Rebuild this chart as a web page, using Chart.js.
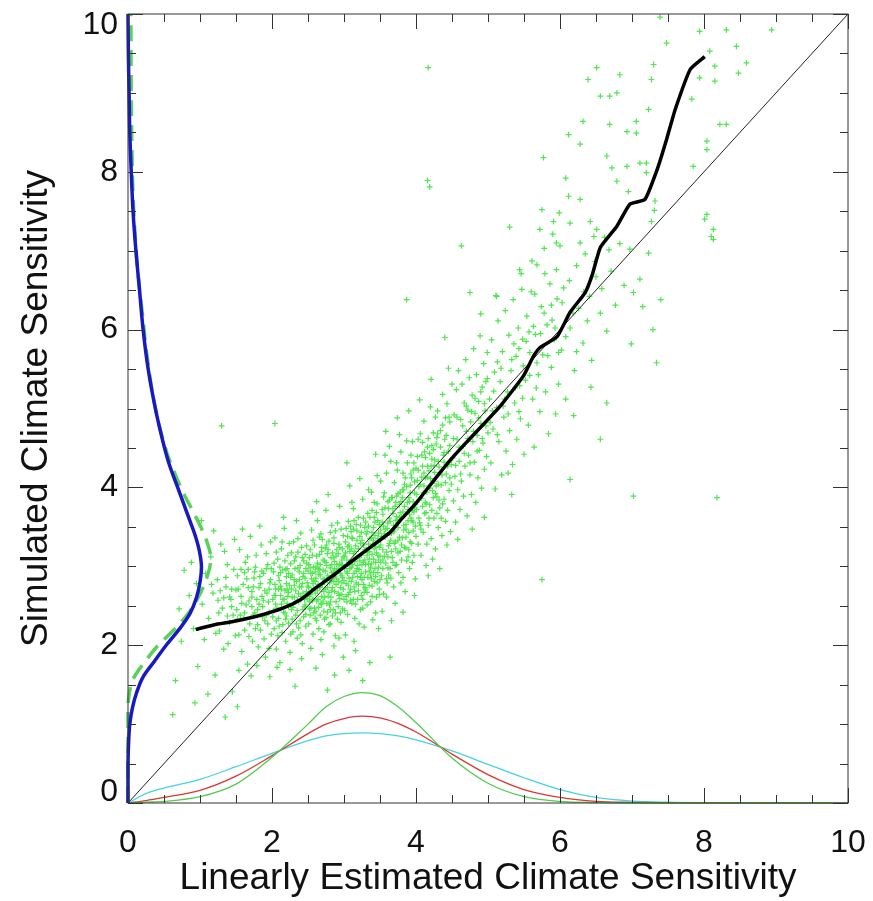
<!DOCTYPE html>
<html><head><meta charset="utf-8">
<script src="https://cdn.jsdelivr.net/npm/chart.js@4/dist/chart.umd.min.js"></script>
<style>html,body{margin:0;padding:0;background:#fff;}</style>
</head><body>
<canvas id="c" width="873" height="901"></canvas>
<script>
// ---- tick labels ----
const xTicks = [0, 2, 4, 6, 8, 10];
const yTicks = [0, 2, 4, 6, 8, 10];
const minorStep = 0.5;

// ---- 1:1 line ----
const diagX = [0, 10];
const diagY = [0, 10];

// ---- black running median ----
const medX = [0.94,1.2,1.46,1.8,2.15,2.4,2.57,2.9,3.26,3.64,3.8,4.01,4.24,4.5,4.7,5.17,5.49,5.63,5.72,5.96,6.14,6.35,6.45,6.56,6.79,6.97,7.18,7.35,7.48,7.6,7.81,8.01];
const medY = [2.20,2.26,2.30,2.37,2.47,2.58,2.70,2.92,3.17,3.43,3.60,3.81,4.08,4.37,4.57,5.03,5.41,5.66,5.77,5.91,6.22,6.47,6.70,7.04,7.31,7.59,7.65,8.03,8.41,8.79,9.30,9.46];

// ---- blue PDF of simulated sensitivity (along y axis) ----
const blueY = [0,0.5,0.8,1.0,1.2,1.4,1.6,1.8,2.0,2.2,2.4,2.6,2.8,3.0,3.2,3.4,3.6,3.8,4.0,4.3,4.6,5.0,5.5,6.0,6.5,7.0,7.5,8.0,8.5,9.0,9.5,10];
const blueX = [0,0.0,0.01,0.025,0.06,0.12,0.21,0.37,0.53,0.71,0.86,0.95,1.00,1.02,0.99,0.93,0.85,0.77,0.69,0.57,0.48,0.38,0.28,0.21,0.16,0.11,0.07,0.045,0.025,0.015,0.005,0];

// ---- green dashed PDF (along y axis) ----
const dashY = [0,1.2,1.4,1.57,1.82,2.0,2.16,2.36,2.58,2.87,3.1,3.3,3.5,3.7,3.93,4.2,4.44,4.8,5.2,5.7,6.2,6.8,7.5,8.0,9.0,10];
const dashX = [0,0,0.02,0.07,0.26,0.42,0.60,0.80,0.96,1.10,1.15,1.10,1.01,0.90,0.77,0.64,0.54,0.43,0.34,0.26,0.20,0.13,0.08,0.06,0.045,0.04];

// ---- PDFs of linearly estimated sensitivity (along x axis) ----
const pdfX     = [0,0.25,0.5,1.0,1.5,2.0,2.5,2.75,3.0,3.25,3.5,3.75,4.0,4.5,5.0,5.5,6.0,6.5,7.0,7.5,8.0,9.0,10];
const pdfGreen = [0,0.01,0.02,0.08,0.24,0.58,1.00,1.22,1.35,1.40,1.36,1.22,1.02,0.57,0.25,0.08,0.02,0.005,0,0,0,0,0];
const pdfRed   = [0,0.03,0.07,0.16,0.34,0.60,0.88,1.00,1.07,1.10,1.08,1.01,0.90,0.62,0.36,0.17,0.07,0.02,0.008,0.003,0,0,0];
const pdfCyan  = [0,0.12,0.19,0.30,0.46,0.63,0.79,0.85,0.88,0.89,0.88,0.85,0.80,0.66,0.49,0.32,0.17,0.07,0.025,0.01,0.004,0,0];

// ---- ensemble members (x, y pairs) ----
const scatterPairs = [
0.62,1.12,0.71,2.46,0.78,2.95,0.85,2.63,0.91,2.21,0.95,2.78,0.66,1.55,0.88,3.05,0.97,1.73,0.74,2.05,0.93,1.27,1.35,1.09,1.52,1.22,
1.03,2.52,1.08,2.91,1.12,2.34,1.15,3.12,1.18,2.66,1.21,1.62,1.24,2.83,1.27,2.18,1.29,3.28,1.31,2.47,1.33,1.95,1.36,2.74,1.38,3.02,1.41,2.29,1.43,2.58,1.45,1.41,1.47,2.96,1.49,2.12,1.06,2.07,1.11,1.38,1.19,3.45,1.26,2.41,1.34,3.19,1.39,2.02,1.44,2.71,1.16,2.77,1.22,2.15,1.30,4.78,1.48,3.34,1.02,3.58,
1.51,2.45,1.52,2.88,1.54,2.13,1.55,3.21,1.57,2.62,1.58,1.92,1.60,2.77,1.61,2.34,1.63,3.05,1.64,2.51,1.66,1.76,1.67,2.96,1.69,2.27,1.70,3.38,1.72,2.68,1.73,2.05,1.75,2.85,1.76,2.41,1.78,3.14,1.79,2.58,1.81,1.98,1.82,2.73,1.84,2.19,1.85,3.27,1.87,2.49,1.88,2.91,1.90,2.31,1.91,1.85,1.93,2.66,1.94,3.02,1.96,2.42,1.97,2.79,1.99,2.14,1.53,2.71,1.56,2.38,1.59,3.47,1.62,2.19,1.65,2.84,1.68,2.56,1.71,1.61,1.74,2.38,1.77,2.99,1.80,2.26,1.83,3.51,1.86,2.62,1.89,2.08,1.92,2.97,1.95,2.55,1.98,3.31,1.54,1.68,1.62,2.92,1.68,2.11,1.74,2.74,1.79,1.74,1.83,2.87,1.87,2.36,1.92,3.16,1.96,1.96,1.58,2.53,1.66,3.12,
2.01,2.58,2.02,2.93,2.03,2.21,2.04,3.36,2.05,2.71,2.06,1.95,2.07,2.47,2.08,3.09,2.09,2.34,2.10,2.82,2.11,1.78,2.12,2.63,2.13,3.22,2.14,2.16,2.15,2.95,2.16,2.42,2.17,3.48,2.18,2.69,2.19,2.05,2.20,2.87,2.21,2.53,2.22,3.14,2.23,2.28,2.24,2.76,2.25,1.91,2.26,3.03,2.27,2.45,2.28,2.89,2.29,2.17,2.30,3.31,2.31,2.61,2.32,2.97,2.33,2.38,2.34,2.81,2.35,2.09,2.36,3.18,2.37,2.55,2.38,2.93,2.39,2.31,2.40,3.42,2.41,2.74,2.42,2.02,2.43,2.66,2.44,3.07,2.45,2.49,2.46,2.85,2.47,2.24,2.48,3.26,2.49,2.59,2.50,2.94,
2.02,2.44,2.04,2.77,2.06,3.18,2.08,2.12,2.11,2.99,2.13,2.52,2.15,2.26,2.18,3.07,2.20,2.37,2.22,2.62,2.24,3.29,2.27,2.71,2.29,2.48,2.31,2.83,2.33,3.12,2.35,2.57,2.37,2.22,2.39,3.01,2.42,2.78,2.44,2.36,2.46,3.15,2.48,2.68,2.07,1.72,2.16,3.62,2.25,1.69,2.34,3.58,2.41,1.83,2.19,2.96,2.28,2.33,2.38,2.74,2.47,2.97,2.12,2.75,2.23,2.91,2.36,3.35,2.43,2.45,2.05,2.63,2.04,4.81,2.32,1.48,1.97,1.60,
2.51,2.73,2.52,3.11,2.53,2.38,2.54,2.91,2.55,3.46,2.56,2.57,2.57,2.14,2.58,2.82,2.59,3.27,2.60,2.66,2.61,2.99,2.62,2.31,2.63,3.58,2.64,2.77,2.65,2.48,2.66,3.15,2.67,2.89,2.68,2.07,2.69,2.62,2.70,3.34,2.71,2.95,2.72,2.43,2.73,3.07,2.74,2.71,2.75,3.71,2.76,2.53,2.77,2.88,2.78,3.21,2.79,2.26,2.80,2.79,2.81,3.43,2.82,2.61,2.83,3.02,2.84,2.37,2.85,2.93,2.86,3.29,2.87,2.68,2.88,2.12,2.89,3.13,2.90,2.84,2.91,3.55,2.92,2.49,2.93,2.97,2.94,3.24,2.95,2.73,2.96,2.29,2.97,3.08,2.98,2.86,2.99,3.39,3.00,2.58,
2.51,2.27,2.53,2.98,2.55,2.69,2.57,3.33,2.59,2.47,2.61,2.85,2.63,3.04,2.65,2.21,2.67,2.74,2.69,3.19,2.71,2.56,2.73,2.83,2.75,2.35,2.77,3.16,2.79,2.67,2.81,2.98,2.83,3.52,2.85,2.45,2.87,3.06,2.89,2.77,2.91,2.33,2.93,3.28,2.95,2.91,2.97,2.64,2.99,3.12,2.52,2.55,2.56,3.69,2.60,2.93,2.64,2.58,2.68,3.41,2.72,2.17,2.76,3.01,2.80,2.51,2.84,3.17,2.88,2.89,2.92,2.66,2.96,3.47,2.54,1.96,2.62,3.82,2.70,1.88,2.78,3.91,2.86,1.99,2.94,3.76,2.58,2.41,2.66,2.96,2.74,3.23,2.82,2.82,2.90,3.02,2.98,2.46,2.57,2.78,2.69,2.52,2.81,2.27,2.93,2.09,2.61,1.71,2.87,1.62,2.77,1.43,2.99,1.85,
3.01,2.97,3.02,3.31,3.03,2.62,3.04,3.08,3.05,2.39,3.06,3.57,3.07,2.85,3.08,3.19,3.09,2.71,3.10,3.44,3.11,2.53,3.12,3.02,3.13,3.73,3.14,2.91,3.15,2.34,3.16,3.26,3.17,2.79,3.18,3.11,3.19,2.58,3.20,3.62,3.21,2.96,3.22,3.38,3.23,2.45,3.24,3.14,3.25,2.83,3.26,3.85,3.27,3.05,3.28,2.67,3.29,3.49,3.30,2.93,3.31,3.21,3.32,2.51,3.33,3.67,3.34,3.03,3.35,2.76,3.36,3.35,3.37,2.98,3.38,3.94,3.39,2.62,3.40,3.28,3.41,3.09,3.42,2.81,3.43,3.56,3.44,2.41,3.45,3.17,3.46,3.79,3.47,2.92,3.48,3.42,3.49,2.71,3.50,3.13,
3.01,2.44,3.03,3.48,3.05,2.91,3.07,3.27,3.09,2.57,3.11,3.81,3.13,3.16,3.15,2.68,3.17,3.53,3.19,2.87,3.21,2.27,3.23,3.29,3.25,3.02,3.27,3.61,3.29,2.73,3.31,3.41,3.33,2.86,3.35,3.19,3.37,2.55,3.39,3.71,3.41,3.33,3.43,2.97,3.45,2.61,3.47,3.58,3.49,3.24,3.02,2.13,3.08,4.02,3.14,2.05,3.22,4.11,3.28,2.23,3.34,3.97,3.40,2.32,3.46,4.15,3.06,2.76,3.12,3.35,3.18,2.97,3.24,2.63,3.32,3.14,3.38,2.84,3.44,3.05,3.10,2.99,3.20,3.22,3.30,3.56,3.42,3.81,3.16,1.93,3.36,1.78,3.26,1.55,3.48,2.21,3.04,4.31,3.44,4.42,3.14,3.58,3.26,2.47,3.38,3.36,3.48,2.99,3.07,1.68,
3.51,3.46,3.52,2.88,3.53,3.72,3.54,3.21,3.55,2.65,3.56,3.93,3.57,3.37,3.58,3.04,3.59,4.18,3.60,2.79,3.61,3.55,3.62,3.26,3.63,3.84,3.64,2.97,3.65,4.33,3.66,3.42,3.67,3.11,3.68,3.67,3.69,2.74,3.70,4.06,3.71,3.31,3.72,3.58,3.73,3.02,3.74,4.22,3.75,3.49,3.76,2.92,3.77,3.78,3.78,3.19,3.79,4.45,3.80,3.63,3.81,3.36,3.82,2.86,3.83,3.97,3.84,3.24,3.85,4.12,3.86,3.53,3.87,3.07,3.88,4.31,3.89,3.72,3.90,3.43,3.91,2.97,3.92,4.03,3.93,3.61,3.94,3.29,3.95,4.58,3.96,3.82,3.97,3.14,3.98,3.93,3.99,3.51,4.00,4.24,
3.51,4.08,3.53,2.43,3.55,3.51,3.57,4.41,3.59,2.61,3.61,3.12,3.63,4.52,3.65,2.85,3.67,3.87,3.69,3.44,3.71,2.53,3.73,4.31,3.75,3.17,3.77,4.67,3.79,2.79,3.81,3.87,3.83,3.46,3.85,2.68,3.87,4.59,3.89,3.12,3.91,3.82,3.93,4.41,3.95,3.05,3.97,3.69,3.99,2.84,3.54,3.08,3.62,3.73,3.70,3.29,3.78,3.94,3.86,3.37,3.94,4.12,3.58,4.71,3.66,2.31,3.74,4.88,3.82,2.42,3.90,4.97,3.98,2.63,3.64,1.85,3.87,6.38,3.72,3.81,3.96,3.56,
4.01,3.72,4.02,4.39,4.03,3.28,4.04,4.01,4.05,3.55,4.06,4.68,4.07,3.14,4.08,3.86,4.09,4.27,4.10,3.43,4.11,4.84,4.12,3.67,4.13,4.12,4.14,3.01,4.15,3.94,4.16,4.51,4.17,3.52,4.18,4.21,4.19,3.78,4.20,5.02,4.21,3.35,4.22,4.36,4.23,3.96,4.24,4.69,4.25,3.61,4.26,4.08,4.27,3.22,4.28,4.55,4.29,3.88,4.30,4.97,4.31,3.49,4.32,4.26,4.33,3.74,4.34,4.72,4.35,4.03,4.36,3.39,4.37,5.18,4.38,4.41,4.39,3.85,4.40,4.61,4.41,3.57,4.42,4.17,4.43,5.06,4.44,3.71,4.45,4.46,4.46,3.96,4.47,4.83,4.48,3.44,4.49,4.29,4.50,5.31,
4.03,4.61,4.07,3.47,4.11,4.18,4.15,3.28,4.19,4.43,4.23,3.09,4.27,4.89,4.31,4.04,4.35,3.61,4.39,4.32,4.43,3.27,4.47,4.12,4.05,5.11,4.17,2.88,4.21,5.37,4.33,2.97,4.45,5.51,4.13,3.81,4.25,4.28,4.37,3.79,4.09,4.57,4.29,3.67,4.41,4.88,4.17,9.32,4.16,7.89,4.19,7.81,4.40,5.90,
4.51,4.37,4.52,3.83,4.53,4.92,4.54,4.14,4.55,3.56,4.56,5.24,4.57,4.61,4.58,3.97,4.59,5.48,4.60,4.33,4.61,3.72,4.62,4.86,4.63,4.08,4.64,5.31,4.65,4.52,4.66,3.89,4.67,5.07,4.68,4.27,4.69,5.62,4.70,4.71,4.71,3.64,4.72,4.98,4.73,4.41,4.74,5.39,4.75,4.16,4.76,4.83,4.77,3.91,4.78,5.17,4.79,4.58,4.80,5.76,4.81,4.32,4.82,4.94,4.83,3.81,4.84,5.43,4.85,4.66,4.86,4.12,4.87,5.09,4.88,4.47,4.89,5.92,4.90,4.81,4.91,3.99,4.92,5.27,4.93,4.56,4.94,5.57,4.95,4.23,4.96,4.97,4.97,5.34,4.98,4.39,4.99,5.71,5.00,4.69,4.58,3.34,4.78,3.47,4.95,3.62,4.63,7.06,4.75,6.47,4.90,6.20,
5.02,5.12,5.04,4.31,5.05,5.87,5.07,4.74,5.09,5.46,5.10,3.98,5.12,5.01,5.14,6.11,5.15,4.58,5.17,5.34,5.19,4.16,5.20,5.72,5.22,4.89,5.24,6.24,5.25,4.46,5.27,5.21,5.29,5.93,5.30,4.72,5.32,5.48,5.34,4.29,5.35,6.38,5.37,5.07,5.39,5.66,5.40,4.61,5.42,6.02,5.44,5.29,5.45,4.87,5.47,6.51,5.49,5.54,5.50,4.42,5.06,4.97,5.13,5.59,5.21,5.03,5.28,4.18,5.36,5.82,5.43,4.96,5.48,5.88,5.11,6.43,5.33,3.91,5.46,6.71,5.12,6.42,5.44,6.76,5.30,7.30,
5.52,5.36,5.54,6.17,5.56,4.79,5.58,5.71,5.60,6.48,5.62,5.12,5.64,4.51,5.66,5.94,5.68,6.82,5.70,5.43,5.72,4.96,5.74,6.29,5.75,2.83,5.76,5.68,5.78,7.03,5.80,5.21,5.82,6.06,5.84,4.68,5.86,6.58,5.88,5.52,5.90,7.21,5.92,5.87,5.94,4.93,5.96,6.39,5.98,5.31,5.57,5.97,5.67,5.26,5.79,6.71,5.89,6.12,5.99,7.48,5.65,6.45,5.95,6.76,
6.02,5.74,6.05,6.53,6.08,5.12,6.00,7.06,6.14,6.02,6.20,5.48,6.23,6.81,6.26,6.27,6.32,5.83,6.35,6.96,6.41,6.42,6.44,5.61,6.47,7.18,6.50,6.67,6.19,4.91,6.43,5.27,6.28,7.10,6.14,4.10,
6.56,6.21,6.65,5.98,6.71,6.74,6.77,6.31,6.83,7.09,6.89,6.56,6.99,5.82,6.62,7.17,6.56,4.61,6.65,5.07,
7.11,6.64,7.23,6.97,7.40,6.38,7.31,7.51,7.29,6.00,7.02,6.47,7.15,6.29,7.34,5.58,7.02,3.89,8.18,3.87,
7.48,9.63,7.94,9.78,8.31,9.80,8.45,9.59,8.08,9.53,8.94,9.80,8.59,9.38,8.48,9.25,8.15,9.34,8.15,9.15,7.94,9.19,7.83,8.92,8.22,8.60,8.31,8.60,8.04,8.39,8.04,8.28,7.85,8.07,8.01,7.40,8.13,7.27,8.13,7.14,
7.30,9.36,7.27,9.17,7.23,8.79,7.06,8.64,7.06,8.49,6.93,8.51,6.69,8.60,6.32,8.64,6.12,8.47,6.28,8.35,6.51,9.32,6.39,9.17,6.56,8.96,6.69,8.96,6.79,9.00,6.83,9.23,
5.77,8.18,6.08,7.92,6.12,7.69,6.28,7.65,5.75,7.52,5.91,7.37,5.72,7.27,6.14,7.35,6.42,7.37,6.65,8.20,6.72,8.05,6.93,8.07,7.11,8.11,7.20,8.11,7.20,7.99,6.79,7.88,6.95,7.75,7.32,7.63,6.51,7.27,5.95,7.10,5.61,6.87,6.97,7.02,7.27,7.37,7.39,9.96,8.04,7.46,8.10,7.18,
1.82,2.52,1.86,2.94,1.90,2.69,1.94,2.27,1.98,2.83,2.01,2.36,2.03,3.04,2.05,2.52,2.09,2.88,2.10,2.24,2.13,2.71,2.14,3.31,2.17,2.58,2.19,2.33,2.21,2.97,2.23,2.67,2.26,2.14,2.27,3.17,2.30,2.52,2.31,2.76,2.34,2.27,2.36,2.98,2.37,2.65,2.40,2.13,2.41,3.24,2.43,2.87,2.45,2.58,2.47,2.39,2.48,3.04,2.50,2.75,
2.52,2.46,2.53,3.21,2.55,2.84,2.57,2.58,2.58,2.99,2.60,2.34,2.62,3.13,2.63,2.69,2.65,2.90,2.66,3.37,2.68,2.53,2.70,2.77,2.71,3.08,2.73,2.33,2.74,2.94,2.76,3.27,2.78,2.62,2.79,2.86,2.81,2.45,2.82,3.11,2.84,2.73,2.86,3.36,2.87,2.97,2.89,2.55,2.90,3.21,2.92,2.81,2.94,3.03,2.95,2.41,2.97,2.79,2.98,3.22,2.52,2.62,2.56,2.91,2.61,2.43,2.67,3.02,2.72,2.68,2.77,2.42,2.83,2.92,2.88,3.45,2.93,2.63,2.98,3.02,
3.00,2.82,3.02,3.17,3.04,2.55,3.05,3.38,3.07,3.04,3.08,2.67,3.10,3.22,3.12,2.86,3.13,3.47,3.15,3.06,3.16,2.52,3.18,3.33,3.20,2.77,3.21,3.12,3.23,3.52,3.24,2.91,3.26,2.58,3.27,3.27,3.29,3.08,3.30,2.71,3.32,3.44,3.33,3.18,3.35,2.94,3.36,3.62,3.38,3.03,3.39,2.75,3.41,3.49,3.42,3.22,3.44,2.87,3.45,3.68,3.47,3.35,3.48,3.08,3.50,2.83,3.04,2.93,3.09,3.51,3.14,2.74,3.19,3.01,3.24,3.43,3.28,2.86,3.34,3.28,3.39,3.15,3.43,3.39,3.49,2.64,
3.51,3.27,3.53,3.56,3.54,2.97,3.56,3.41,3.57,3.74,3.59,3.18,3.60,3.48,3.62,2.89,3.63,3.61,3.65,3.33,3.66,3.87,3.68,3.05,3.69,3.52,3.71,3.76,3.72,3.22,3.74,3.59,3.75,3.92,3.77,3.37,3.78,3.68,3.80,3.08,3.81,3.97,3.83,3.52,3.84,3.76,3.86,3.23,3.87,4.01,3.89,3.58,3.90,3.87,3.92,3.31,3.93,4.17,3.95,3.71,3.96,3.45,3.98,4.07,3.99,3.78,3.55,3.88,3.64,3.42,3.73,3.63,3.82,4.18,3.91,3.66,3.97,4.31,3.61,2.98,
4.01,3.91,4.03,4.22,4.04,3.61,4.06,4.04,4.08,4.41,4.09,3.76,4.11,4.02,4.13,4.38,4.14,3.68,4.16,4.13,4.17,4.62,4.19,3.99,4.21,4.27,4.22,3.71,4.24,4.48,4.26,4.19,4.27,3.92,4.29,4.63,4.31,4.33,4.32,3.84,4.34,4.51,4.36,4.16,4.37,4.79,4.39,4.44,4.41,4.06,4.42,4.66,4.44,4.27,4.46,4.89,4.47,4.53,4.49,4.04,
4.52,4.62,4.55,4.28,4.57,4.89,4.60,4.51,4.62,4.17,4.65,4.78,4.67,4.43,4.70,5.03,4.72,4.62,4.75,4.31,4.77,4.96,4.80,4.71,4.82,5.13,4.85,4.46,4.87,4.88,4.90,5.21,4.92,4.62,4.95,5.06,4.97,4.78,4.99,5.38,
5.03,4.82,5.08,5.22,5.13,4.67,5.18,5.51,5.23,5.12,5.28,4.93,5.33,5.62,5.38,5.26,5.43,5.76,5.48,5.13,5.53,5.85,5.58,5.42,5.63,6.04,5.68,5.58,5.73,5.95,5.78,6.21,5.83,5.67,5.88,6.31,5.93,6.02,5.98,5.71,6.03,6.34,6.08,5.91,6.13,6.62,6.18,6.21,6.23,5.72,6.33,6.48,6.38,6.11,6.48,6.86,6.58,6.52,6.68,7.01,
1.62,2.41,1.67,2.73,1.72,2.49,1.77,2.21,1.52,2.33,1.57,2.96,1.41,2.61,1.46,2.38,1.36,2.86,1.25,2.57,
2.21,2.71,2.23,2.49,2.26,2.86,2.28,2.61,2.31,3.07,2.33,2.69,2.35,2.44,2.38,2.83,2.40,2.62,2.42,3.11,2.44,2.91,2.46,2.51,2.49,2.79,2.51,3.02,2.53,2.64,2.54,2.47,2.56,3.14,2.58,2.72,2.60,2.81,2.62,2.56,2.64,2.97,2.66,2.73,2.67,2.38,2.69,3.24,2.71,2.84,2.73,2.61,2.75,3.05,2.77,2.73,2.79,3.32,2.81,2.55,2.83,2.69,2.85,3.11,2.86,2.81,2.88,2.41,2.90,2.95,2.92,3.16,2.94,2.59,2.96,3.01,2.97,2.88,2.99,2.71,
3.01,3.13,3.03,2.78,3.05,3.25,3.06,2.64,3.08,2.97,3.10,2.81,3.11,3.36,3.13,2.58,3.15,3.19,3.17,2.94,3.18,3.45,3.20,2.69,3.22,3.07,3.23,2.86,3.25,3.33,3.27,2.77,3.29,3.21,3.30,3.02,3.32,2.67,3.34,3.51,3.35,3.09,3.37,2.89,3.39,3.43,3.41,2.92,3.42,3.62,3.44,3.25,3.46,2.79,3.47,3.14,3.49,3.53,
3.51,3.05,3.52,3.38,3.54,3.66,3.56,3.13,3.58,3.47,3.59,2.84,3.61,3.82,3.63,3.29,3.64,3.57,3.66,3.19,3.68,3.73,3.70,3.46,3.71,3.01,3.73,3.89,3.75,3.33,3.77,3.62,3.79,3.82,3.80,3.27,3.82,3.69,3.84,4.04,3.86,3.47,3.88,3.81,3.90,3.21,3.92,3.93,3.94,3.58,3.96,4.22,3.98,3.74,4.00,3.38,
4.02,4.09,4.04,3.84,4.06,3.52,4.08,4.13,4.10,3.93,4.12,4.45,4.14,3.79,4.16,4.27,4.18,3.61,4.20,4.11,4.22,4.53,4.24,3.87,4.26,4.35,4.28,4.02,4.30,4.68,
1.72,2.61,1.76,2.93,1.80,2.45,1.84,2.78,1.88,2.57,1.92,2.38,1.96,2.71,1.99,2.97,2.03,2.63,2.06,2.31,2.09,2.71,2.12,2.92,2.15,2.58,2.18,2.41,2.20,2.78,1.50,2.70,1.44,2.49,1.33,2.60,1.28,2.69,1.38,2.37
];

const pairs = (xs, ys) => xs.map((v, i) => ({x: v, y: ys[i]}));
const scatterPts = [];
for (let i = 0; i < scatterPairs.length; i += 2) scatterPts.push({x: scatterPairs[i], y: scatterPairs[i + 1]});

const tickFont = {family: 'Liberation Sans', size: 32};
const titleFont = {family: 'Liberation Sans', size: 37};

const frameTicks = {
  id: 'frameTicks',
  afterDatasetsDraw(chart) {
    const {ctx, chartArea: a, scales: {x, y}} = chart;
    ctx.save();
    ctx.strokeStyle = '#333';
    ctx.lineWidth = 1;
    ctx.strokeRect(a.left, a.top, a.right - a.left, a.bottom - a.top);
    ctx.beginPath();
    for (let v = x.min; v <= x.max + 1e-9; v += minorStep) {
      const p = Math.round(x.getPixelForValue(v)) + 0.5;
      const len = xTicks.includes(Math.round(v * 100) / 100) ? 15 : 8;
      ctx.moveTo(p, a.bottom); ctx.lineTo(p, a.bottom - len);
      ctx.moveTo(p, a.top); ctx.lineTo(p, a.top + len);
    }
    for (let v = y.min; v <= y.max + 1e-9; v += minorStep) {
      const p = Math.round(y.getPixelForValue(v)) + 0.5;
      const len = yTicks.includes(Math.round(v * 100) / 100) ? 15 : 8;
      ctx.moveTo(a.left, p); ctx.lineTo(a.left + len, p);
      ctx.moveTo(a.right, p); ctx.lineTo(a.right - len, p);
    }
    ctx.stroke();
    // y tick labels (end labels kept inside the axis span, as in the original)
    ctx.fillStyle = '#111';
    ctx.font = tickFont.size + 'px "' + tickFont.family + '"';
    ctx.textAlign = 'right';
    ctx.textBaseline = 'middle';
    yTicks.forEach(v => {
      const p = Math.min(Math.max(y.getPixelForValue(v), a.top + 11), a.bottom - 11);
      ctx.fillText(String(v), a.left - 10, p);
    });
    ctx.restore();
  }
};

const zeroPad = s => { s.paddingLeft = 0; s.paddingRight = 0; s.paddingTop = 0; s.paddingBottom = 0; };

new Chart(document.getElementById('c'), {
  type: 'scatter',
  data: {
    datasets: [
      {label: 'Median', data: pairs(medX, medY), showLine: true, borderColor: '#000', borderWidth: 3.5, pointRadius: 0, tension: 0.15, order: 0},
      {label: 'Simulated PDF', data: pairs(blueX, blueY), showLine: true, borderColor: 'rgb(25,25,195)', borderWidth: 3.5, pointRadius: 0, tension: 0.35, order: 1, clip: 6},
      {label: 'Fitted PDF', data: pairs(dashX, dashY), showLine: true, borderColor: 'rgb(90,210,90)', borderWidth: 3.5, borderDash: [16, 9], pointRadius: 0, tension: 0.35, order: 2, clip: 6},
      {label: '1:1', data: pairs(diagX, diagY), showLine: true, borderColor: '#222', borderWidth: 1, pointRadius: 0, order: 3},
      {label: 'PDF green', data: pairs(pdfX, pdfGreen), showLine: true, borderColor: 'rgb(80,205,80)', borderWidth: 1.3, pointRadius: 0, cubicInterpolationMode: 'monotone', order: 4, clip: 4},
      {label: 'PDF red', data: pairs(pdfX, pdfRed), showLine: true, borderColor: 'rgb(215,55,55)', borderWidth: 1.3, pointRadius: 0, cubicInterpolationMode: 'monotone', order: 5, clip: 4},
      {label: 'PDF cyan', data: pairs(pdfX, pdfCyan), showLine: true, borderColor: 'rgb(70,210,230)', borderWidth: 1.3, pointRadius: 0, cubicInterpolationMode: 'monotone', order: 6, clip: 4},
      {label: 'Ensemble', data: scatterPts, pointStyle: 'cross', pointRadius: 2.9, borderWidth: 1.2, borderColor: 'rgb(80,230,80)', backgroundColor: 'rgb(80,230,80)', order: 10}
    ]
  },
  options: {
    responsive: false,
    animation: false,
    events: [],
    layout: {padding: {left: 0, right: 25, top: 14, bottom: 0}},
    plugins: {legend: {display: false}, tooltip: {enabled: false}},
    scales: {
      x: {
        type: 'linear', min: 0, max: 10,
        afterBuildTicks: s => { s.ticks = xTicks.map(v => ({value: v})); },
        afterFit: s => { s.height = 98; zeroPad(s); },
        grid: {display: false, drawTicks: false}, border: {display: false},
        ticks: {font: tickFont, color: '#111', padding: 21, maxRotation: 0, autoSkip: false},
        title: {display: true, text: 'Linearly Estimated Climate Sensitivity', font: titleFont, color: '#111', padding: 0}
      },
      y: {
        type: 'linear', min: 0, max: 10,
        afterBuildTicks: s => { s.ticks = yTicks.map(v => ({value: v})); },
        afterFit: s => { s.width = 128; zeroPad(s); },
        grid: {display: false, drawTicks: false}, border: {display: false},
        ticks: {display: false},
        title: {display: true, text: 'Simulated Climate Sensitivity', font: titleFont, color: '#111', padding: {top: 15, bottom: 0}}
      }
    }
  },
  plugins: [frameTicks]
});
</script>
</body></html>
